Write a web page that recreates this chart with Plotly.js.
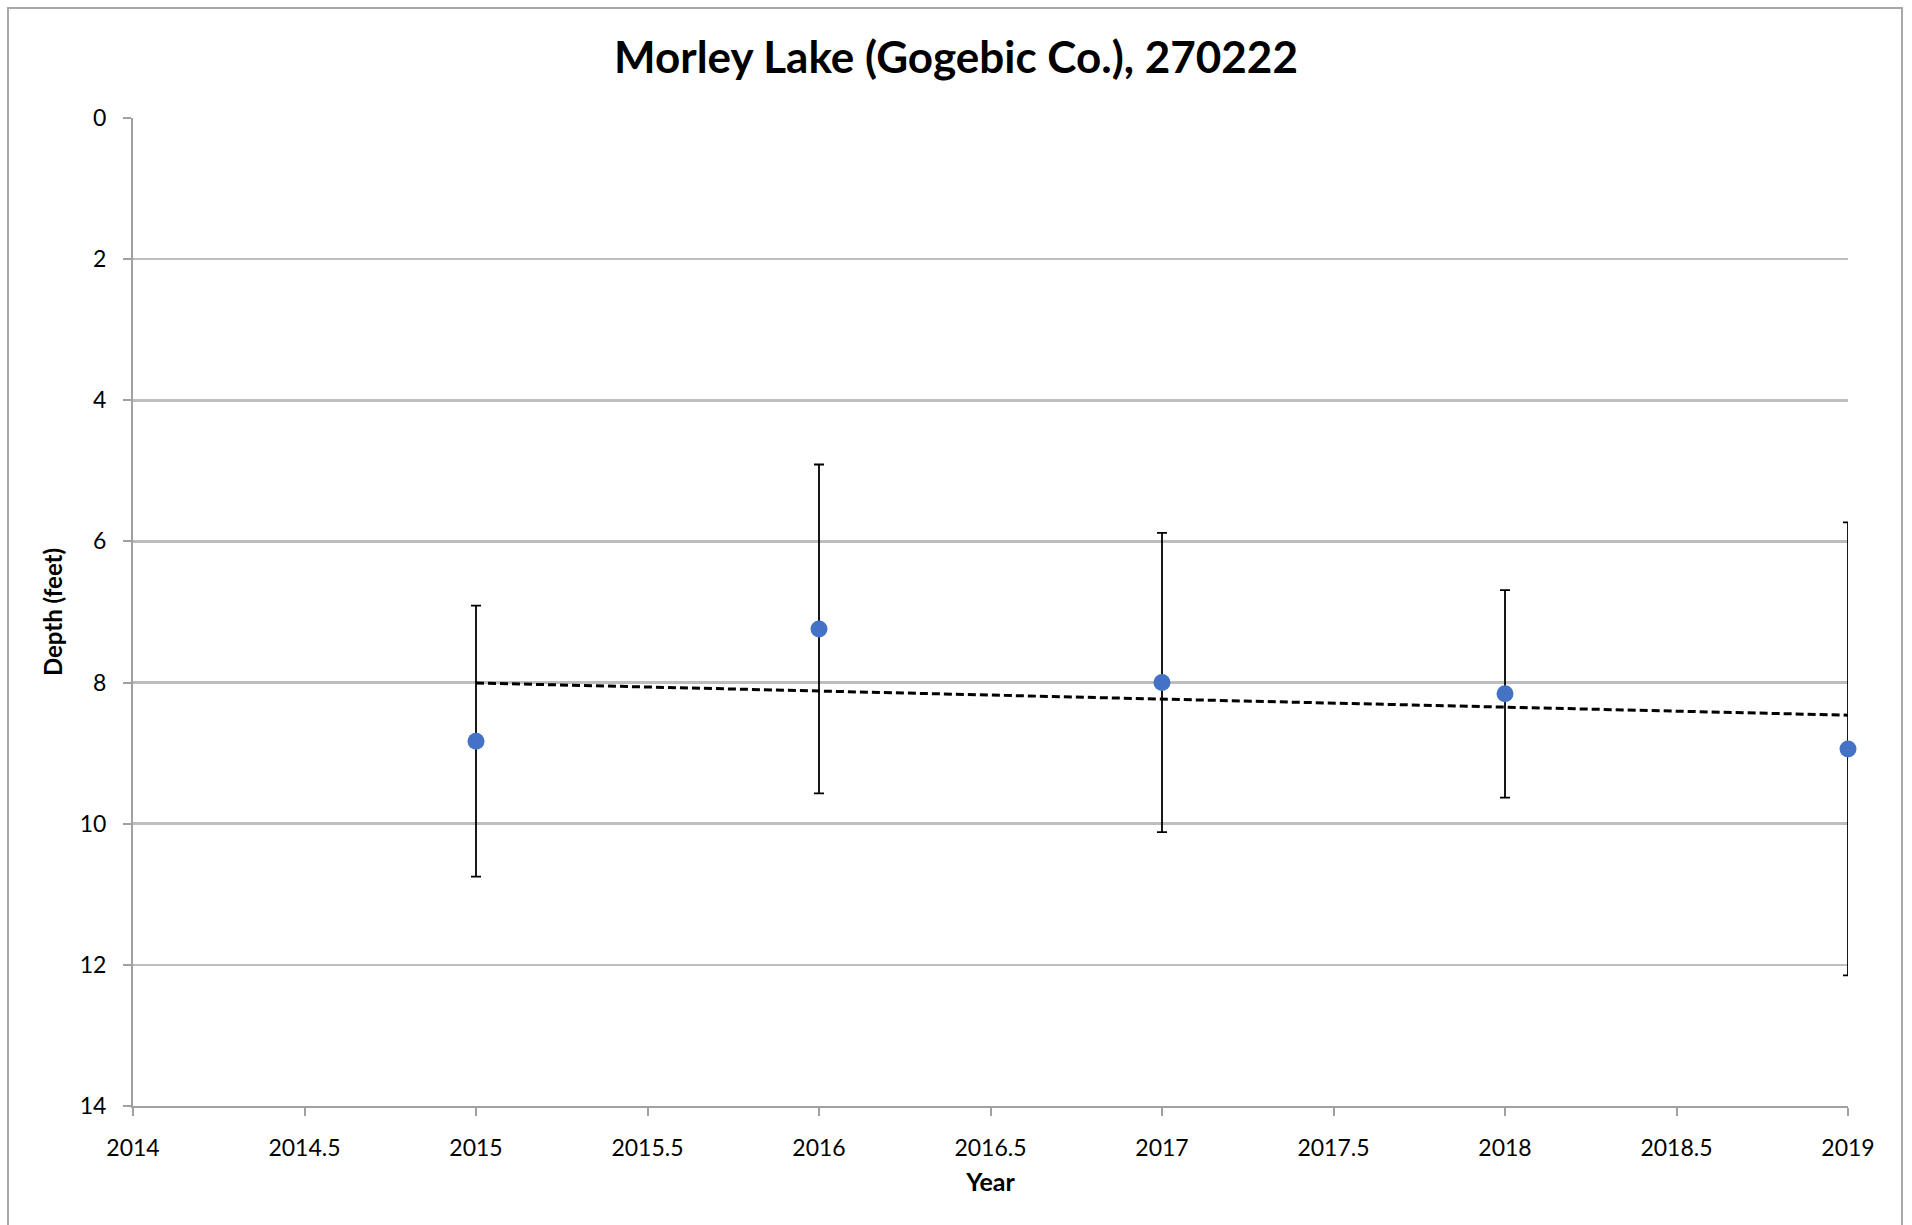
<!DOCTYPE html>
<html>
<head>
<meta charset="utf-8">
<script src="https://cdn.plot.ly/plotly-3.0.1.min.js"></script>
<style>
  html, body { margin: 0; padding: 0; background: #ffffff; }
  #wrap { position: relative; width: 1912px; height: 1225px; overflow: hidden; }
  #frame { position: absolute; left: 7px; top: 7px; width: 1896px; height: 1260px;
           border: 2px solid #A8A8A8; box-sizing: border-box; pointer-events: none; z-index: 5; }
  #chart { position: absolute; left: 0; top: 0; width: 1912px; height: 1225px; }
</style>
</head>
<body>
<div id="wrap">
  <div id="chart"></div>
  <div id="frame"></div>
</div>
<script>
// ---- data ----
const years = [2015, 2016, 2017, 2018, 2019];
const depth = [8.83, 7.24, 8.00, 8.16, 8.94];
const depthError = [1.92, 2.33, 2.12, 1.47, 3.21];

const chartTitle = "Morley Lake (Gogebic Co.), 270222";
const xTitle = "Year";
const yTitle = "Depth (feet)";

// ---- linear trendline (least squares) from the data ----
const n = years.length;
const mx = years.reduce((a, b) => a + b, 0) / n;
const my = depth.reduce((a, b) => a + b, 0) / n;
let sxy = 0, sxx = 0;
for (let i = 0; i < n; i++) { sxy += (years[i] - mx) * (depth[i] - my); sxx += (years[i] - mx) ** 2; }
const slope = sxy / sxx;
const intercept = my - slope * mx;
const trendX = [years[0], years[n - 1]];
const trendY = trendX.map(x => intercept + slope * x);

const FONT = "Lato, 'Liberation Sans', sans-serif";

const traces = [
  {
    x: trendX, y: trendY, type: "scatter", mode: "lines",
    line: { color: "#000000", width: 3, dash: "8px,4px" },
    hoverinfo: "skip", showlegend: false, cliponaxis: false
  },
  {
    x: years, y: depth, type: "scatter", mode: "markers",
    marker: { color: "#4472C4", size: 17 },
    error_y: { type: "data", array: depthError, symmetric: true, visible: true,
               color: "#000000", thickness: 1.8, width: 5 },
    showlegend: false, cliponaxis: false
  }
];

const layout = {
  width: 1912, height: 1225,
  paper_bgcolor: "#ffffff", plot_bgcolor: "#ffffff",
  margin: { l: 133, r: 64, t: 118, b: 119, pad: 0 },
  font: { family: FONT, color: "#000000", size: 23 },
  title: { text: "<b>" + chartTitle + "</b>", x: 0.5, xanchor: "center", y: 0.953, yanchor: "middle",
           xref: "container", font: { family: FONT, size: 44, color: "#000000" } },
  showlegend: false,
  xaxis: {
    range: [2014, 2019], dtick: 0.5, tick0: 2014, tickmode: "linear",
    tickformat: ".1~f",
    showgrid: false, zeroline: false,
    showline: true, linecolor: "#A0A0A0", linewidth: 2,
    ticks: "outside", ticklen: 8, tickwidth: 2, tickcolor: "#A0A0A0",
    ticklabelstandoff: 12,
    tickfont: { family: FONT, size: 23, color: "#000000" },
    title: { text: "<b>" + xTitle + "</b>", standoff: 14, font: { family: FONT, size: 25, color: "#000000" } }
  },
  xaxis2: {
    overlaying: "x", side: "bottom", anchor: "y",
    range: [2014, 2019], dtick: 0.5, tick0: 2014, tickmode: "linear",
    showgrid: false, zeroline: false, showline: false, showticklabels: false,
    ticks: "inside", ticklen: 7, tickwidth: 2, tickcolor: "#A0A0A0"
  },
  yaxis: {
    range: [14, 0], dtick: 2, tick0: 0, tickmode: "linear",
    showgrid: true, gridcolor: "#BDBDBD", gridwidth: 2.6,
    zeroline: false,
    showline: true, linecolor: "#A0A0A0", linewidth: 2,
    ticks: "outside", ticklen: 8, tickwidth: 2, tickcolor: "#A0A0A0",
    ticklabelstandoff: 12,
    tickfont: { family: FONT, size: 23, color: "#000000" },
    title: { text: "<b>" + yTitle + "</b>", standoff: 10, font: { family: FONT, size: 24, color: "#000000" } }
  }
};

Plotly.newPlot("chart", traces, layout, { displayModeBar: false, staticPlot: true });
</script>
</body>
</html>
